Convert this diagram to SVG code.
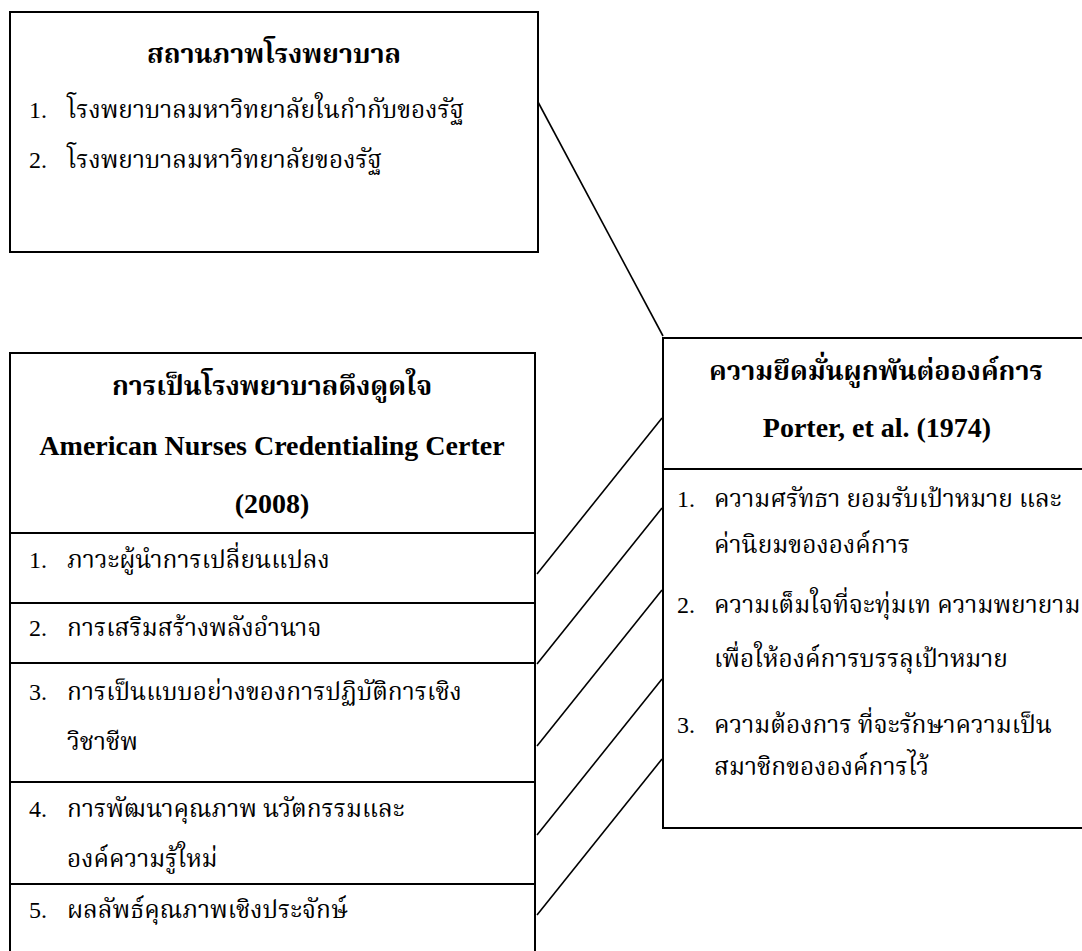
<svg xmlns="http://www.w3.org/2000/svg" width="1082" height="951" viewBox="0 0 1082 951">
<style>
.box{fill:#fff;stroke:#000;stroke-width:2}
.div{stroke:#000;stroke-width:2}
.con line{stroke:#000;stroke-width:1.6}
.t{font-family:'Liberation Serif','Noto Serif Thai','Noto Sans Thai',serif;font-size:24.5px;fill:#000}
.n{font-family:'Liberation Serif',serif;font-size:24px;fill:#000}
.h{font-family:'Liberation Serif','Noto Serif Thai','Noto Sans Thai',serif;font-size:26.8px;font-weight:bold;fill:#000;text-anchor:middle}
.l{font-family:'Liberation Serif',serif;font-size:28px;font-weight:bold;fill:#000;text-anchor:middle}
</style>
<rect width="1082" height="951" fill="#fff"/>
<g class="con">
<line x1="538" y1="102" x2="663" y2="336"/>
<line x1="537" y1="574" x2="662" y2="418"/>
<line x1="537" y1="664" x2="662" y2="508"/>
<line x1="537" y1="746" x2="662" y2="590"/>
<line x1="537" y1="835" x2="662" y2="679"/>
<line x1="537" y1="915" x2="662" y2="759"/>
</g>
<g id="status">
<rect class="box" x="10" y="12" width="528" height="240"/>
<text class="h" x="274" y="63">สถานภาพโรงพยาบาล</text>
<text class="n" x="29" y="118">1.</text><text class="t" x="67" y="118">โรงพยาบาลมหาวิทยาลัยในกำกับของรัฐ</text>
<text class="n" x="29" y="168">2.</text><text class="t" x="67" y="168">โรงพยาบาลมหาวิทยาลัยของรัฐ</text>
</g>
<g id="magnet">
<rect class="box" x="10" y="353" width="525" height="610"/>
<line class="div" x1="10" y1="533" x2="535" y2="533"/>
<line class="div" x1="10" y1="603" x2="535" y2="603"/>
<line class="div" x1="10" y1="663" x2="535" y2="663"/>
<line class="div" x1="10" y1="782" x2="535" y2="782"/>
<line class="div" x1="10" y1="884" x2="535" y2="884"/>
<text class="h" x="272" y="395">การเป็นโรงพยาบาลดึงดูดใจ</text>
<text class="l" x="272" y="455">American Nurses Credentialing Certer</text>
<text class="l" x="272" y="513">(2008)</text>
<text class="n" x="29" y="568">1.</text><text class="t" x="67" y="568">ภาวะผู้นำการเปลี่ยนแปลง</text>
<text class="n" x="29" y="636">2.</text><text class="t" x="67" y="636">การเสริมสร้างพลังอำนาจ</text>
<text class="n" x="29" y="700">3.</text><text class="t" x="67" y="700">การเป็นแบบอย่างของการปฏิบัติการเชิง</text>
<text class="t" x="67" y="750">วิชาชีพ</text>
<text class="n" x="29" y="817">4.</text><text class="t" x="67" y="817">การพัฒนาคุณภาพ นวัตกรรมและ</text>
<text class="t" x="67" y="867">องค์ความรู้ใหม่</text>
<text class="n" x="29" y="918">5.</text><text class="t" x="67" y="918">ผลลัพธ์คุณภาพเชิงประจักษ์</text>
</g>
<g id="commitment">
<rect class="box" x="663" y="338" width="430" height="490"/>
<line class="div" x1="663" y1="469" x2="1093" y2="469"/>
<text class="h" x="876" y="380">ความยึดมั่นผูกพันต่อองค์การ</text>
<text class="l" x="877" y="437">Porter, et al. (1974)</text>
<text class="n" x="677" y="507">1.</text><text class="t" x="714" y="507">ความศรัทธา ยอมรับเป้าหมาย และ</text>
<text class="t" x="714" y="553">ค่านิยมขององค์การ</text>
<text class="n" x="677" y="613">2.</text><text class="t" x="714" y="613">ความเต็มใจที่จะทุ่มเท ความพยายาม</text>
<text class="t" x="714" y="667">เพื่อให้องค์การบรรลุเป้าหมาย</text>
<text class="n" x="677" y="733">3.</text><text class="t" x="714" y="733">ความต้องการ ที่จะรักษาความเป็น</text>
<text class="t" x="714" y="775">สมาชิกขององค์การไว้</text>
</g>
</svg>
